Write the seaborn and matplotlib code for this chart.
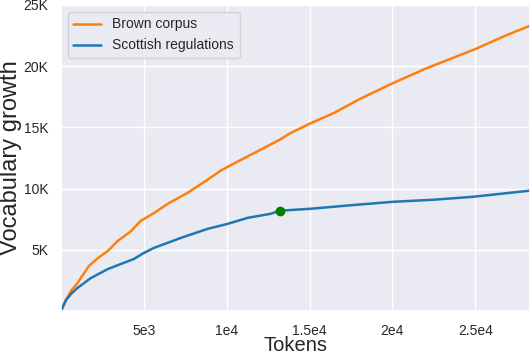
import numpy as np
import pandas as pd
import matplotlib
matplotlib.use("Agg")
import matplotlib.pyplot as plt
import seaborn as sns

# values
brown_tokens = [0, 300, 600, 1000, 1690, 2200, 2830, 3430, 4200, 4820, 5600, 6450, 7650,
                8700, 9640, 10500, 11500, 12500, 13200, 13800, 15000, 16500, 18000, 20000,
                22000, 25000, 27000, 28300]
brown_vocab = [0, 900, 1640, 2300, 3690, 4300, 4920, 5740, 6500, 7380, 8000, 8770, 9670,
               10600, 11480, 12100, 12800, 13500, 14000, 14500, 15300, 16200, 17300, 18600,
               19800, 21400, 22600, 23300]

scot_tokens = [0, 300, 600, 1000, 1800, 2830, 4400, 5000, 5600, 7230, 8850, 10060, 11270,
               12650, 13190, 15060, 17500, 20060, 22500, 24880, 28300]
scot_vocab = [0, 900, 1390, 1900, 2700, 3440, 4260, 4750, 5160, 5980, 6720, 7130, 7620,
              7950, 8200, 8360, 8650, 8930, 9100, 9340, 9840]

marker_token = [13190]
marker_vocab = [8200]

x_ticks = [5000, 10000, 15000, 20000, 25000]
x_labels = ["5e3", "1e4", "1.5e4", "2e4", "2.5e4"]
y_ticks = [5000, 10000, 15000, 20000, 25000]
y_labels = ["5K", "10K", "15K", "20K", "25K"]

sns.set_theme(style="darkgrid")
plt.rcParams["font.family"] = ["Liberation Sans", "DejaVu Sans"]

df = pd.concat([
    pd.DataFrame({"tokens": brown_tokens, "vocab": brown_vocab, "corpus": "Brown corpus"}),
    pd.DataFrame({"tokens": scot_tokens, "vocab": scot_vocab, "corpus": "Scottish regulations"}),
])

fig = plt.figure(figsize=(5.3, 3.54), dpi=100)
ax = fig.add_axes([0.115, 0.121, 0.885, 0.865])

sns.lineplot(data=df, x="tokens", y="vocab", hue="corpus",
             palette={"Brown corpus": "#ff7f0e", "Scottish regulations": "#1f77b4"},
             linewidth=1.8, ax=ax)
ax.plot(marker_token, marker_vocab, "o", color="green", markersize=6, zorder=5)

ax.set_xlim(0, 28300)
ax.set_ylim(0, 25000)
ax.set_xticks(x_ticks)
ax.set_xticklabels(x_labels)
ax.set_yticks(y_ticks)
ax.set_yticklabels(y_labels)
ax.tick_params(labelsize=10, pad=3)
ax.set_xlabel("Tokens", fontsize=14.5, labelpad=-1)
ax.set_ylabel("Vocabulary growth", fontsize=17, labelpad=1)

leg = ax.legend(loc="upper left", fontsize=10, title=None, frameon=True,
                borderaxespad=0.5)

fig.savefig("out.png", dpi=100)
